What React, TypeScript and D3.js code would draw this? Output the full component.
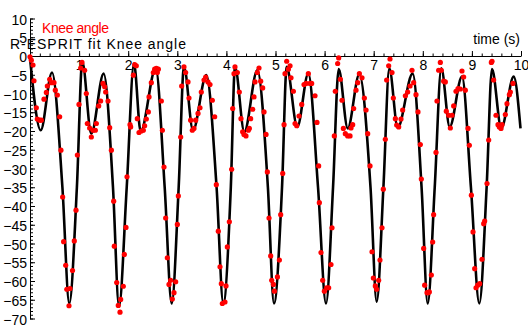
import React, { useEffect, useRef } from 'react';
import * as d3 from 'd3';

// R-ESPRIT fit, key points (peaks, troughs, mid-swings)
const fitTime = [
  0.0, 0.218, 0.448, 0.66, 0.8, 0.955, 1.065, 1.248, 1.5, 1.69, 1.813, 1.97,
  2.118, 2.254, 2.56, 2.743, 2.886, 3.028, 3.136, 3.32, 3.591, 3.8, 3.937, 4.09,
  4.175, 4.365, 4.63, 4.845, 4.969, 5.133, 5.228, 5.444, 5.668, 5.866, 6.029, 6.172,
  6.287, 6.471, 6.707, 6.935, 7.061, 7.198, 7.318, 7.489, 7.794, 7.975, 8.1, 8.243,
  8.377, 8.548, 8.798, 8.98, 9.151, 9.3, 9.409, 9.599, 9.851, 9.99,
];
const fitAngle = [
  -0.5, -19.8, -4.4, -35, -66.0, -35, -1.5, -20.7, -4.7, -35, -66.8, -35,
  -2.0, -20.2, -3.3, -35, -66.0, -35, -2.9, -19.8, -5.1, -35, -66.0, -35,
  -2.9, -20.2, -3.8, -35, -66.0, -35, -2.9, -18.9, -4.7, -35, -66.0, -35,
  -3.5, -19.3, -4.9, -35, -65.5, -35, -3.3, -19.1, -4.7, -35, -66.0, -35,
  -3.3, -18.9, -5.5, -35, -66.0, -35, -3.5, -19.3, -5.5, -19.3,
];

// measured knee angle samples
const kneeTime = [
  0.0, 0.027, 0.061, 0.081, 0.129, 0.149, 0.197, 0.231, 0.285, 0.333, 0.353, 0.401,
  0.434, 0.489, 0.516, 0.557, 0.604, 0.63, 0.665, 0.685, 0.727, 0.75, 0.794, 0.815,
  0.866, 0.902, 0.937, 0.965, 0.998, 1.032, 1.059, 1.113, 1.147, 1.168, 1.215, 1.249,
  1.283, 1.331, 1.351, 1.399, 1.439, 1.487, 1.521, 1.541, 1.589, 1.623, 1.657, 1.704,
  1.717, 1.766, 1.798, 1.833, 1.847, 1.9, 1.921, 1.955, 1.976,
  2.037, 2.05, 2.105, 2.132, 2.165, 2.186, 2.22, 2.267, 2.308, 2.335, 2.369, 2.41,
  2.424, 2.471, 2.512, 2.539, 2.573, 2.593, 2.614, 2.675, 2.696, 2.729, 2.763, 2.797,
  2.831, 2.865, 2.899, 2.933, 2.967, 3.001, 3.021, 3.069, 3.089, 3.136, 3.17, 3.218,
  3.238, 3.272, 3.306, 3.34, 3.374, 3.422, 3.462, 3.489, 3.544, 3.578, 3.625, 3.666,
  3.713, 3.761, 3.795, 3.835, 3.87, 3.897, 3.917, 3.971, 3.992,
  4.019, 4.06, 4.107, 4.128, 4.155, 4.175, 4.223, 4.263, 4.297, 4.331, 4.358, 4.399,
  4.447, 4.467, 4.494, 4.535, 4.562, 4.583, 4.63, 4.664, 4.698, 4.739, 4.766, 4.807,
  4.834, 4.868, 4.902, 4.923, 4.957, 4.977, 5.039, 5.079, 5.106, 5.147, 5.174, 5.194,
  5.228, 5.262, 5.296, 5.316, 5.364, 5.398, 5.432, 5.479, 5.534, 5.581, 5.622, 5.669,
  5.703, 5.737, 5.805,
  5.845, 5.879, 5.893, 5.927, 5.961, 5.995, 6.042, 6.083, 6.13, 6.151, 6.198, 6.218,
  6.266, 6.287, 6.321, 6.355, 6.382, 6.422, 6.47, 6.518, 6.538, 6.572, 6.592, 6.64,
  6.674, 6.708, 6.762, 6.81, 6.844, 6.878, 6.925, 6.966, 6.993, 7.033, 7.06, 7.101,
  7.128, 7.169, 7.196, 7.237, 7.264, 7.305, 7.332, 7.373, 7.4, 7.441, 7.468, 7.509,
  7.556, 7.59, 7.645, 7.692, 7.74,
  7.78, 7.814, 7.862, 7.902, 7.95, 7.97, 8.018, 8.038, 8.086, 8.106, 8.133, 8.174,
  8.201, 8.221, 8.269, 8.289, 8.323, 8.357, 8.377, 8.425, 8.459, 8.479, 8.527, 8.561,
  8.595, 8.629, 8.676, 8.717, 8.765, 8.798, 8.832, 8.866, 8.921, 8.948, 8.989, 9.023,
  9.057, 9.084, 9.118, 9.159, 9.206, 9.24, 9.26, 9.308, 9.342, 9.396, 9.41, 9.443,
  9.491, 9.532, 9.559, 9.593, 9.613, 9.681, 9.715, 9.763, 9.783, 9.837,
];
const kneeAngle = [
  -0.2, -1.1, -2.4, -6.6, -13.8, -16.8, -17.1, -17.1, -11.5, -9.7, -8.0, -6.2,
  -7.1, -7.1, -9.1, -10.4, -16.2, -25.1, -37.6, -49.5, -55.8, -62.2, -66.6, -62.0,
  -57.2, -49.3, -41.1, -26.4, -12.9, -3.2, -1.7, -3.8, -10.0, -18.0, -19.2, -21.6,
  -19.8, -19.8, -18.0, -13.3, -12.0, -7.3, -8.2, -9.6, -12.0, -19.1, -25.1, -38.7,
  -50.7, -60.4, -66.5, -68.3, -64.9, -61.4, -52.9, -45.7, -32.2,
  -18.3, -18.9, -5.1, -2.3, -2.6, -16.7, -20.4, -20.0, -19.8, -18.6, -16.8, -14.9,
  -10.9, -7.1, -4.4, -3.5, -3.3, -4.4, -3.5, -12.0, -19.8, -29.6, -43.2, -53.8,
  -60.9, -59.8, -64.8, -63.1, -60.2, -44.9, -37.3, -21.6, -8.0, -2.9, -4.4, -6.9,
  -11.2, -17.1, -19.8, -19.3, -17.1, -15.3, -13.8, -9.6, -6.4, -5.6, -6.9, -7.6,
  -11.8, -16.2, -34.3, -46.7, -56.2, -60.7, -66.0, -65.6, -61.3,
  -50.9, -44.2, -30.2, -14.0, -4.7, -2.9, -4.4, -9.6, -16.7, -20.2, -20.9, -21.3,
  -19.8, -19.3, -16.7, -14.2, -10.9, -6.9, -4.4, -3.2, -6.7, -8.5, -14.9, -20.9,
  -30.9, -43.2, -53.3, -59.8, -60.9, -62.7, -58.9, -54.4, -42.3, -31.3, -18.3, -4.7,
  -1.4, -3.5, -2.6, -5.8, -9.4, -18.0, -18.6, -16.0, -12.9, -7.6, -7.3, -4.7,
  -7.3, -7.3, -10.6,
  -17.7, -29.3, -39.1, -52.4, -59.8, -62.7, -61.8, -61.8, -55.6, -45.8, -21.3, -9.4,
  -2.0, -0.5, -6.2, -11.8, -19.3, -20.7, -21.3, -21.3, -19.2, -18.3, -14.0, -9.1,
  -7.1, -4.7, -5.8, -11.2, -14.4, -20.7, -29.3, -52.2, -59.2, -61.3, -62.2, -59.8,
  -54.4, -45.8, -35.5, -22.2, -6.4, -2.6, -0.8, -4.4, -11.2, -16.7, -18.4, -18.9,
  -16.8, -14.4, -10.6, -9.6, -8.0,
  -3.8, -7.1, -10.3, -14.9, -23.6, -32.8, -51.3, -61.1, -63.1, -63.1, -62.9, -58.4,
  -49.6, -42.3, -25.7, -12.0, -3.8, -1.7, -3.8, -6.7, -6.9, -14.7, -15.8, -19.2,
  -15.8, -13.3, -9.4, -8.7, -8.8, -4.0, -5.6, -9.1, -19.3, -23.8, -37.1, -46.9,
  -56.7, -61.8, -61.1, -60.7, -54.2, -44.7, -44.0, -34.0, -22.4, -1.7, -1.4, -6.4,
  -15.8, -18.3, -18.9, -19.3, -18.3, -15.6, -12.7, -10.3, -9.6, -7.3,
];

const xTicks = [1, 2, 3, 4, 5, 6, 7, 8, 9, 10];
const yTicks = [10, 5, 0, -5, -10, -15, -20, -25, -30, -35, -40, -45, -50, -55, -60, -65, -70];

const App = () => {
  const ref = useRef<SVGSVGElement>(null);

  useEffect(() => {
    if (!ref.current) return;
    const width = 528;
    const height = 325;
    const font = '"Liberation Sans", Arial, sans-serif';

    const svg = d3.select(ref.current);
    svg.selectAll('*').remove();
    svg.attr('width', width).attr('height', height);

    const x = d3.scaleLinear().domain([0, 10]).range([30, 521]);
    const y = d3.scaleLinear().domain([10, -70]).range([18.5, 318.5]);

    // y axis: minor ticks every 1, major every 5 with labels on the left
    svg.append('g')
      .attr('transform', `translate(${x(0)},0)`)
      .call(d3.axisRight(y).tickValues(d3.range(-70, 11, 1)).tickSize(3).tickFormat(() => ''))
      .call(g => g.select('.domain').remove());

    const yAxis = svg.append('g')
      .attr('transform', `translate(${x(0)},0)`)
      .call(d3.axisLeft(y).tickValues(yTicks).tickSizeInner(-5).tickSizeOuter(0).tickPadding(3));
    yAxis.selectAll('text')
      .attr('font-size', 14)
      .attr('font-family', font)
      .attr('fill', '#000')
      .attr('dy', '0.4em');

    // x axis along zero: minor every 0.2, major every 1, labels underneath
    svg.append('g')
      .attr('transform', `translate(0,${y(0)})`)
      .call(d3.axisTop(x).tickValues(d3.range(0, 10.01, 0.2)).tickSize(2.5).tickFormat(() => ''))
      .call(g => g.select('.domain').remove());

    const xAxis = svg.append('g')
      .attr('transform', `translate(0,${y(0)})`)
      .call(d3.axisBottom(x).tickValues(xTicks).tickSizeInner(-5).tickSizeOuter(0).tickPadding(4));
    xAxis.selectAll('text')
      .attr('font-size', 14)
      .attr('font-family', font)
      .attr('fill', '#000');

    svg.append('text')
      .attr('x', 520)
      .attr('y', 44)
      .attr('text-anchor', 'end')
      .attr('font-size', 14)
      .attr('font-family', font)
      .text('time (s)');

    // fitted curve
    const line = d3.line<number>()
      .x((_, i) => x(fitTime[i]))
      .y(d => y(d))
      .curve(d3.curveMonotoneX);

    svg.append('path')
      .attr('d', line(fitAngle))
      .attr('fill', 'none')
      .attr('stroke', '#000')
      .attr('stroke-width', 2.6);

    // measured samples
    svg.append('g')
      .selectAll('circle')
      .data(kneeAngle)
      .join('circle')
      .attr('cx', (_, i) => x(kneeTime[i]))
      .attr('cy', d => y(d))
      .attr('r', 2.6)
      .attr('fill', '#ff0000');

    // legend
    svg.append('text')
      .attr('x', 42)
      .attr('y', 32.5)
      .attr('font-size', 14)
      .attr('font-family', font)
      .attr('fill', '#ff0000')
      .attr('textLength', 67)
      .attr('lengthAdjust', 'spacing')
      .text('Knee angle');

    svg.append('text')
      .attr('x', 10)
      .attr('y', 49)
      .attr('font-size', 14)
      .attr('font-family', font)
      .attr('fill', '#000')
      .attr('textLength', 176)
      .attr('lengthAdjust', 'spacing')
      .text('R-ESPRIT fit Knee angle');
  }, []);

  return (
    <svg
      ref={ref}
      style={{ position: 'absolute', left: 0, top: 0, background: '#fff' }}
    />
  );
};

export default App;
